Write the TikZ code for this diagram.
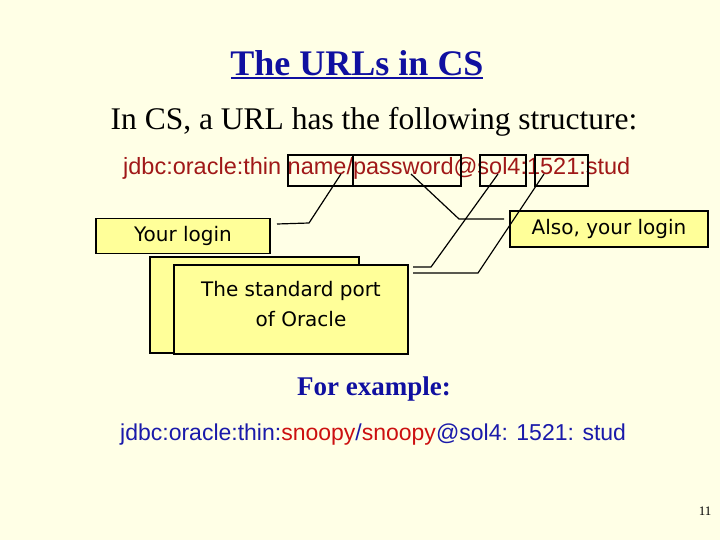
\documentclass[tikz,border=0pt]{standalone}
\usepackage{fontspec}
\setmainfont{Liberation Serif}
\newfontfamily\arial{Liberation Sans}
\newfontfamily\comic{DejaVu Sans}
\definecolor{bg}{HTML}{FFFFE6}
\definecolor{boxy}{HTML}{FFFF99}
\definecolor{urlred}{HTML}{A01818}
\definecolor{exred}{HTML}{CC1010}
\definecolor{exblue}{HTML}{1A1AAA}
\definecolor{ttl}{HTML}{1010A0}
\begin{document}
\begin{tikzpicture}[x=1pt,y=-1pt,
  lbl/.style={draw=black,line width=1.5pt,fill=boxy,font=\comic\fontsize{20}{30}\selectfont},
  seg/.style={draw=black,line width=2pt,fill=none},
  conn/.style={line width=1.2pt}]
\fill[bg] (0,0) rectangle (720,540);
\useasboundingbox (0,0) rectangle (720,540);
\node[ttl,font=\bfseries\fontsize{36}{40}\selectfont] (title) at (357,63) {The URLs in CS};
\draw[ttl,line width=1.8pt] ([yshift=-3pt]title.base west) ++(4,0) -- ([yshift=-3pt,xshift=-4pt]title.base east);
\node[font=\fontsize{31.5}{36}\selectfont] at (374,122) {In CS, a URL has the following structure:};
\node[urlred,font=\arial\fontsize{23.5}{28}\selectfont,anchor=west,inner sep=0] (url) at (123,168) {jdbc:oracle:thin name/password@sol4:1521:stud};
\draw[seg] (288,155) rectangle (353,186);
\draw[seg] (353,155) rectangle (461,186);
\draw[seg] (480,155) rectangle (526,186);
\draw[seg] (535,155) rectangle (588,186);
\coordinate (nm) at (341,174); \coordinate (pw) at (411,174);
\coordinate (sl) at (498,174); \coordinate (pt) at (544,174);
\node[lbl,minimum width=174,minimum height=35,inner sep=0] (login) at (183,236) {Your login};
\node[lbl,minimum width=198,minimum height=36,inner sep=0] (also) at (609,229) {Also, your login};
\node[lbl,minimum width=209,minimum height=96,inner sep=0] (back) at (254.5,305) {};
\node[lbl,minimum width=234,minimum height=89,inner sep=0,align=center,anchor=north] (port) at (291,264) {\\[-26pt]The standard port\\ \quad of Oracle};
\coordinate (e1) at (277,224); \coordinate (e2) at (504,219);
\coordinate (e3) at (413,267); \coordinate (e4) at (413,273);
\draw[conn] (nm) -- (309,223) -- (e1);
\draw[conn] (pw) -- (459,219) -- (e2);
\draw[conn] (sl) -- (431,267) -- (e3);
\draw[conn] (pt) -- (478,273) -- (e4);
\node[ttl,font=\bfseries\fontsize{27}{30}\selectfont] (fe) at (374,389) {For example:};
\node[font=\arial\fontsize{23}{27}\selectfont,anchor=west,inner sep=0] (ex) at (120,435) {\textcolor{exblue}{jdbc:oracle:thin:}\textcolor{exred}{snoopy}\textcolor{exblue}{/}\textcolor{exred}{snoopy}\textcolor{exblue}{@sol4: 1521: stud}};
\node[font=\fontsize{13}{15}\selectfont] (pg) at (705,511) {11};
\end{tikzpicture}
\end{document}
